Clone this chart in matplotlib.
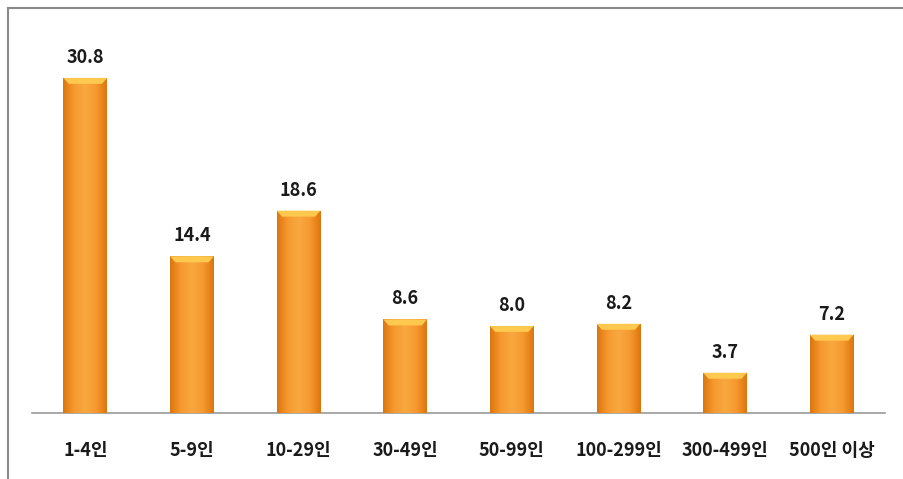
import numpy as np
import matplotlib.pyplot as plt
from matplotlib.colors import LinearSegmentedColormap
from matplotlib.patches import Polygon
from matplotlib.lines import Line2D

plt.rcParams['font.family'] = ['Noto Sans CJK KR', 'DejaVu Sans']

categories = ['1-4인', '5-9인', '10-29인', '30-49인', '50-99인', '100-299인', '300-499인', '500인 이상']
values = [30.8, 14.4, 18.6, 8.6, 8.0, 8.2, 3.7, 7.2]

fig = plt.figure(figsize=(9.04, 4.79), dpi=100)
ax = fig.add_axes([32/904, 66/479, 853/904, 383/479])

# frame around the chart area
fig.add_artist(Line2D([8/904, 8/904], [0, 1 - 8/479], color='#8a8a8a', lw=1.5))
fig.add_artist(Line2D([8/904, 1], [1 - 8/479, 1 - 8/479], color='#8a8a8a', lw=1.5))

x = np.arange(len(categories))
w = 0.41
bars = ax.bar(x, values, width=w, color='#F39426', zorder=2)

grad = LinearSegmentedColormap.from_list('o', ['#DE760F', '#F59A30', '#F9A840', '#F59A30', '#DE760F'])
g = np.linspace(0, 1, 100).reshape(1, -1)
for b in bars:
    x0, y0 = b.get_x(), b.get_y()
    bw, bh = b.get_width(), b.get_height()
    im = ax.imshow(g, cmap=grad, aspect='auto', extent=[x0, x0 + bw, y0, y0 + bh], zorder=3)
    im.set_clip_path(b)
    # bevel on top
    d = 0.55
    dx = 0.05
    top = Polygon([[x0, y0 + bh], [x0 + bw, y0 + bh], [x0 + bw - dx, y0 + bh - d], [x0 + dx, y0 + bh - d]],
                  closed=True, facecolor='#FFC94F', edgecolor='none', zorder=4)
    ax.add_patch(top)
    ax.annotate(f'{b.get_height():.1f}', (x0 + bw / 2, y0 + bh), xytext=(0, 8),
                textcoords='offset points', ha='center', va='bottom',
                fontsize=13, fontweight='bold', color='#1a1a1a')

ax.set_xlim(-0.5, len(categories) - 0.5)
ax.set_ylim(0, 35.2)
ax.set_xticks(x)
ax.set_xticklabels(categories, fontsize=13, fontweight='bold', color='#1a1a1a')
ax.tick_params(axis='x', length=0, pad=20)
ax.set_yticks([])
for s in ['top', 'right', 'left']:
    ax.spines[s].set_visible(False)
ax.spines['bottom'].set_color('#9a9a9a')
ax.spines['bottom'].set_linewidth(1.2)

fig.savefig('out.png', dpi=100)
